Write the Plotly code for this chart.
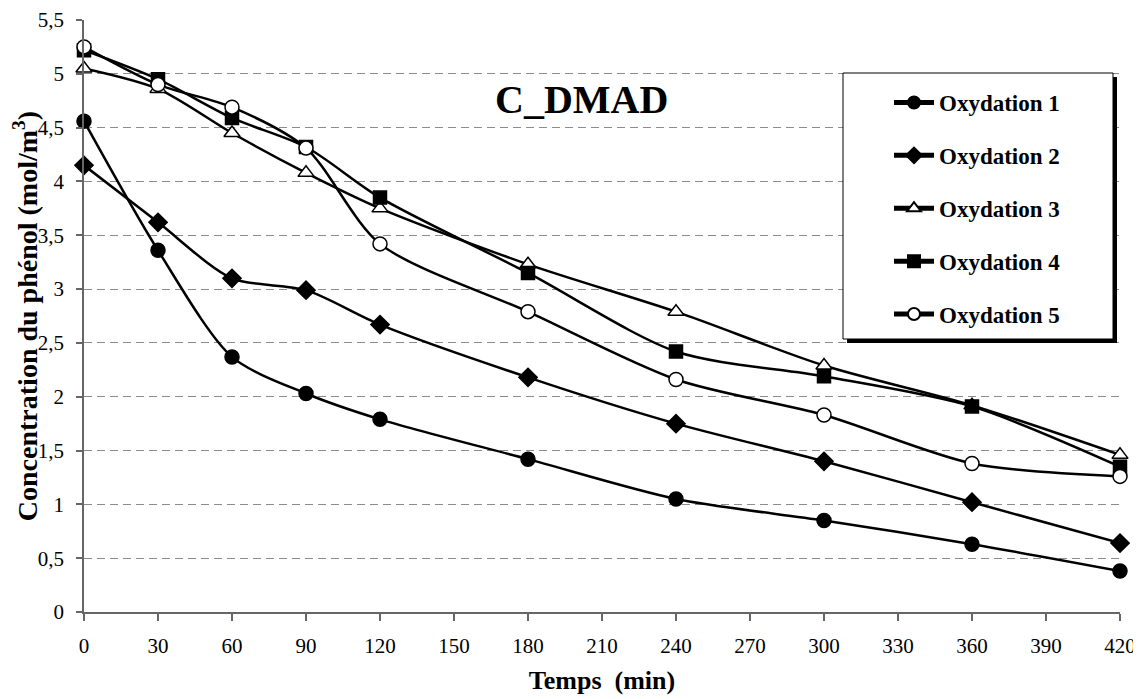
import plotly.graph_objects as go

# ---------------- data ----------------
temps = [0, 30, 60, 90, 120, 180, 240, 300, 360, 420]
oxydation_1 = [4.56, 3.36, 2.37, 2.03, 1.79, 1.42, 1.05, 0.85, 0.63, 0.38]
oxydation_2 = [4.15, 3.62, 3.10, 2.99, 2.67, 2.18, 1.75, 1.40, 1.02, 0.64]
oxydation_3 = [5.05, 4.86, 4.45, 4.08, 3.75, 3.23, 2.79, 2.29, 1.92, 1.46]
oxydation_4 = [5.22, 4.95, 4.59, 4.32, 3.85, 3.15, 2.42, 2.19, 1.91, 1.35]
oxydation_5 = [5.25, 4.90, 4.69, 4.31, 3.42, 2.79, 2.16, 1.83, 1.38, 1.26]
series_names = ["Oxydation 1", "Oxydation 2", "Oxydation 3", "Oxydation 4", "Oxydation 5"]

x_ticks = list(range(0, 421, 30))
y_ticks = [i * 0.5 for i in range(12)]
y_tick_labels = [("%g" % v).replace(".", ",") for v in y_ticks]

# ---------------- styles ----------------
FONT = "Liberation Serif"
styles = [
    dict(symbol="circle", size=14, color="black"),
    dict(symbol="diamond", size=14, color="black"),
    dict(symbol="triangle-up", size=14, color="white"),
    dict(symbol="square", size=13, color="black"),
    dict(symbol="circle", size=14, color="white"),
]
all_series = [oxydation_1, oxydation_2, oxydation_3, oxydation_4, oxydation_5]

fig = go.Figure()
for i, (name, vals, st) in enumerate(zip(series_names, all_series, styles)):
    fig.add_trace(go.Scatter(
        x=temps, y=vals, name=name, mode="lines+markers",
        legendgroup="g%d" % i,
        line=dict(color="black", width=2.5, shape="spline", smoothing=0.8),
        marker=dict(symbol=st["symbol"], size=st["size"], color=st["color"],
                    line=dict(color="black", width=1.5)),
        cliponaxis=False,
    ))

# page has an 8px body margin; plot area on page: x 84..1120, y 20..612
OFF = 8
TOP, BOT = 20, 612
PL, PT, PW, PH = 84 - OFF, TOP - OFF, 1036, BOT - TOP
FW, FH = 1141 - OFF, 699 - OFF

def px_x(p):
    return (p - 84) / float(PW)

def px_y(p):
    return (BOT - p) / float(PH)

shapes = [
    # legend shadow
    dict(type="rect", xref="paper", yref="paper",
         x0=px_x(847), x1=px_x(1117), y0=px_y(343), y1=px_y(77),
         fillcolor="black", line=dict(width=0), layer="above"),
    # legend box
    dict(type="rect", xref="paper", yref="paper",
         x0=px_x(843), x1=px_x(1113), y0=px_y(339), y1=px_y(73),
         fillcolor="white", line=dict(color="black", width=1), layer="above"),
]

fig.update_layout(
    width=FW, height=FH,
    margin=dict(l=PL, r=FW - PL - PW, t=PT, b=FH - PT - PH, autoexpand=False),
    paper_bgcolor="white", plot_bgcolor="white",
    font=dict(family=FONT, color="black", size=21),
    showlegend=True,
    legend=dict(
        x=px_x(889), y=px_y(81), xanchor="left", yanchor="top",
        bgcolor="rgba(0,0,0,0)", borderwidth=0,
        font=dict(family=FONT, size=23, color="black", weight="bold"),
        tracegroupgap=20, itemsizing="constant", itemwidth=40,
    ),
    shapes=shapes,
    annotations=[dict(
        text="<b>C_DMAD</b>", xref="paper", yref="paper",
        x=px_x(581), y=px_y(99), xanchor="center", yanchor="middle",
        showarrow=False, font=dict(family=FONT, size=40, color="black"),
    )],
    xaxis=dict(
        range=[0, 420], tickmode="array", tickvals=x_ticks,
        showgrid=False, zeroline=False, automargin=False,
        showline=True, linecolor="#666666", linewidth=1.5,
        ticks="outside", ticklen=7, tickcolor="#666666", tickwidth=1.5,
        tickfont=dict(family=FONT, size=21, color="black"),
        ticklabelstandoff=7, ticklabeloverflow="allow",
        title=dict(text="<b>Temps  (min)</b>", font=dict(family=FONT, size=26),
                   standoff=14),
    ),
    yaxis=dict(
        range=[0, 5.5], tickmode="array", tickvals=y_ticks, ticktext=y_tick_labels,
        showgrid=True, gridcolor="#8c8c8c", gridwidth=1, griddash="8px,5px",
        zeroline=False, automargin=False,
        showline=True, linecolor="#666666", linewidth=1.5,
        ticks="outside", ticklen=6, tickcolor="#666666", tickwidth=1.5,
        tickfont=dict(family=FONT, size=21, color="black"),
        ticklabelstandoff=8, ticklabeloverflow="allow",
        title=dict(text="<b>Concentration du phénol (mol/m<sup>3</sup>)</b>",
                   font=dict(family=FONT, size=28), standoff=0),
    ),
)

fig.write_html("out.html")
